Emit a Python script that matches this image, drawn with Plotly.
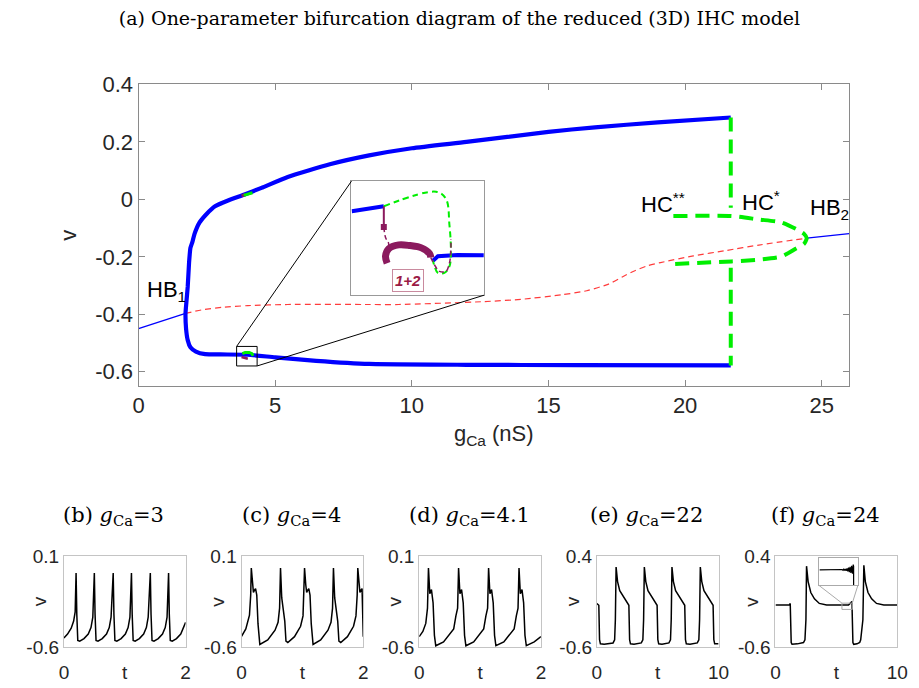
import plotly.graph_objects as go

W, H = 919, 688

# ---------------- main bifurcation diagram data ----------------
# stable periodic orbit (max / min of v), thick blue
po_g = [21.67, 19.0, 16.7, 15.0, 12.0, 10.0, 8.44, 7.0, 5.46, 4.5, 3.88, 3.3, 2.8, 2.5, 2.23, 2.05,
        1.97, 1.90, 1.85, 1.80, 1.75, 1.72, 1.74, 1.80, 1.90, 2.10, 2.44, 3.0, 3.99, 5.0, 6.5, 8.44,
        12.0, 16.0, 21.67]
po_v = [0.285, 0.268, 0.251, 0.235, 0.200, 0.178, 0.153, 0.122, 0.078, 0.040, 0.017, -0.003, -0.024,
        -0.050, -0.081, -0.120, -0.149, -0.169, -0.220, -0.305, -0.360, -0.397, -0.450, -0.490,
        -0.515, -0.530, -0.539, -0.540, -0.541, -0.550, -0.562, -0.573, -0.576, -0.577, -0.578]

# equilibrium branch: stable (thin blue) and unstable (red dashed)
eq_stable_left_g = [0.0, 1.72]
eq_stable_left_v = [-0.450, -0.397]
eq_unstable_g = [1.72, 2.3, 3.05, 4.0, 5.46, 8.44, 9.52, 12.64, 14.0, 15.5, 16.4, 17.2, 17.7, 18.1,
                 18.6, 19.1, 20.3, 21.5, 22.7, 24.45]
eq_unstable_v = [-0.397, -0.385, -0.376, -0.370, -0.366, -0.366, -0.366, -0.356, -0.348, -0.332,
                 -0.318, -0.295, -0.270, -0.251, -0.232, -0.220, -0.197, -0.178, -0.159, -0.135]
eq_stable_right_g = [24.45, 26.0]
eq_stable_right_v = [-0.135, -0.119]

# unstable periodic orbit born at HB2 (green dashed)
upo_g = [19.57, 21.70, 22.69, 23.52, 24.06, 24.35, 24.45, 24.35, 24.06, 23.52, 22.69, 21.70, 19.57]
upo_v = [-0.058, -0.058, -0.070, -0.080, -0.103, -0.120, -0.135, -0.155, -0.171, -0.199, -0.210,
         -0.216, -0.225]

# homoclinic (HC*) vertical, green dashed
hc_g = [21.67, 21.67, None, 21.67, 21.67]
hc_v = [0.285, -0.029, None, -0.238, -0.578]

# small features near g = 4
mark_up_green_g = [3.85, 4.0, 4.17]
mark_up_green_v = [0.014, 0.019, 0.023]
mark_up_purple_g = [3.77, 3.84, 3.92]
mark_up_purple_v = [0.012, 0.015, 0.017]
mark_lo_green_g = [3.80, 3.90, 4.05, 4.15, 4.19]
mark_lo_green_v = [-0.537, -0.533, -0.533, -0.537, -0.545]
mark_lo_purple_g = [3.77, 3.88, 4.0]
mark_lo_purple_v = [-0.549, -0.553, -0.555]

zoom_g = [3.59, 4.34]
zoom_v = [-0.580, -0.512]

x_ticks = [0, 5, 10, 15, 20, 25]
y_ticks = [-0.6, -0.4, -0.2, 0, 0.2, 0.4]
y_ticktext = ["-0.6", "-0.4", "-0.2", "0", "0.2", "0.4"]

# ---------------- inset (normalised coordinates) ----------------
in_blue_l_x = [0.002, 0.119, 0.244]
in_blue_l_y = [0.737, 0.758, 0.780]
in_green_x = [0.244, 0.639, 0.713, 0.739, 0.750, 0.739, 0.701, 0.652, 0.627, 0.615]
in_green_y = [0.780, 0.907, 0.845, 0.619, 0.392, 0.252, 0.195, 0.195, 0.252, 0.303]
in_blue_r_x = [0.615, 0.652, 0.800, 0.998]
in_blue_r_y = [0.303, 0.342, 0.352, 0.350]
in_pur_v_x = [0.244, 0.244]
in_pur_v_y = [0.780, 0.599]
in_pur_d1_x = [0.244, 0.257, 0.281, 0.267]
in_pur_d1_y = [0.599, 0.506, 0.449, 0.390]
in_arc_x = [0.269, 0.257, 0.281, 0.356, 0.442, 0.528, 0.590, 0.598]
in_arc_y = [0.280, 0.342, 0.407, 0.441, 0.435, 0.415, 0.364, 0.331]
in_pur_d2_x = [0.598, 0.627, 0.664, 0.713, 0.739, 0.750, 0.750]
in_pur_d2_y = [0.331, 0.265, 0.209, 0.209, 0.280, 0.392, 0.492]

# ---------------- time series panels ----------------
b_t = [0.00, 0.06, 0.12, 0.16, 0.185, 0.200, 0.212, 0.228, 0.26, 0.33, 0.40, 0.445, 0.475, 0.500,
       0.512, 0.528, 0.56, 0.63, 0.70, 0.745, 0.775, 0.810, 0.822, 0.838, 0.87, 0.94, 1.01, 1.055,
       1.085, 1.110, 1.122, 1.138, 1.17, 1.24, 1.31, 1.355, 1.385, 1.420, 1.432, 1.448, 1.48, 1.55,
       1.62, 1.665, 1.695, 1.720, 1.732, 1.748, 1.78, 1.85, 1.92, 1.965, 2.00]
b_v = [-0.53, -0.50, -0.455, -0.40, -0.33, -0.03, -0.35, -0.55, -0.555, -0.535, -0.50, -0.45, -0.37,
       -0.03, -0.35, -0.55, -0.555, -0.535, -0.50, -0.45, -0.37, -0.03, -0.35, -0.55, -0.555, -0.535,
       -0.50, -0.45, -0.37, -0.03, -0.35, -0.55, -0.555, -0.535, -0.50, -0.45, -0.37, -0.03, -0.35,
       -0.55, -0.555, -0.535, -0.50, -0.45, -0.37, -0.03, -0.35, -0.55, -0.555, -0.535, -0.50, -0.45,
       -0.41]

c_t = [0.00, 0.07, 0.13, 0.15, 0.16, 0.18, 0.195, 0.215, 0.23, 0.25, 0.27, 0.30, 0.43, 0.55, 0.60,
       0.625, 0.64, 0.66, 0.69, 0.71, 0.73, 0.76, 0.87, 0.97, 1.01, 1.025, 1.035, 1.055, 1.07, 1.09,
       1.105, 1.125, 1.145, 1.175, 1.30, 1.42, 1.47, 1.495, 1.51, 1.53, 1.56, 1.58, 1.60, 1.63, 1.74,
       1.84, 1.88, 1.90, 1.91, 1.93, 1.945, 1.965, 1.98, 2.00]
c_v = [-0.517, -0.46, -0.355, -0.20, 0.008, -0.12, -0.18, -0.16, -0.15, -0.20, -0.42, -0.58, -0.545,
       -0.47, -0.41, -0.30, 0.008, -0.22, -0.32, -0.40, -0.555, -0.565, -0.52, -0.44, -0.36, -0.20,
       0.008, -0.12, -0.18, -0.16, -0.15, -0.20, -0.42, -0.58, -0.545, -0.47, -0.41, -0.30, 0.008,
       -0.22, -0.32, -0.40, -0.555, -0.565, -0.52, -0.44, -0.36, -0.20, 0.008, -0.12, -0.18, -0.16,
       -0.15, -0.52]

d_t = [0.00, 0.06, 0.108, 0.136, 0.152, 0.174, 0.201, 0.228, 0.25, 0.272, 0.40, 0.567, 0.603, 0.631,
       0.647, 0.669, 0.696, 0.723, 0.745, 0.767, 0.895, 1.06, 1.096, 1.124, 1.14, 1.162, 1.189, 1.216,
       1.238, 1.26, 1.39, 1.56, 1.596, 1.624, 1.64, 1.662, 1.689, 1.716, 1.738, 1.76, 1.89, 2.00]
d_v = [-0.52, -0.48, -0.418, -0.30, 0.008, -0.19, -0.157, -0.26, -0.51, -0.59, -0.56, -0.46, -0.36,
       -0.30, 0.008, -0.19, -0.157, -0.26, -0.51, -0.59, -0.56, -0.46, -0.36, -0.30, 0.008, -0.19,
       -0.157, -0.26, -0.51, -0.59, -0.56, -0.46, -0.36, -0.30, 0.008, -0.19, -0.157, -0.26, -0.51,
       -0.59, -0.56, -0.52]

e_t = [0.00, 0.16, 0.22, 0.29, 0.60, 1.33, 1.46, 1.52, 1.58, 1.70, 1.88, 2.18, 2.48, 2.63, 2.69,
       2.76, 3.05, 3.65, 3.78, 3.84, 3.90, 4.02, 4.20, 4.50, 4.80, 4.95, 5.01, 5.08, 5.35, 5.92, 6.05,
       6.11, 6.17, 6.29, 6.47, 6.77, 7.07, 7.22, 7.28, 7.35, 7.65, 8.25, 8.38, 8.44, 8.50, 8.62, 8.80,
       9.10, 9.40, 9.55, 9.61, 9.68, 10.0]
e_v = [-0.12, -0.14, -0.52, -0.565, -0.57, -0.555, -0.52, -0.30, 0.28, 0.12, 0.02, -0.05, -0.11,
       -0.14, -0.52, -0.565, -0.57, -0.555, -0.52, -0.30, 0.28, 0.12, 0.02, -0.05, -0.11, -0.14,
       -0.52, -0.565, -0.57, -0.555, -0.52, -0.30, 0.28, 0.12, 0.02, -0.05, -0.11, -0.14, -0.52,
       -0.565, -0.57, -0.555, -0.52, -0.30, 0.28, 0.12, 0.02, -0.05, -0.11, -0.14, -0.52, -0.565,
       -0.565]

f_t = [0.00, 1.15, 1.21, 1.25, 1.29, 1.36, 1.80, 2.30, 2.42, 2.50, 2.55, 2.68, 2.90, 3.20, 3.60,
       4.20, 6.00, 6.28, 6.32, 6.36, 6.43, 6.70, 6.92, 7.00, 7.18, 7.26, 7.38, 7.60, 7.90, 8.30, 8.90,
       10.0]
f_v = [-0.138, -0.138, -0.12, -0.30, -0.55, -0.57, -0.565, -0.55, -0.52, -0.30, 0.29, 0.12, 0.00,
       -0.07, -0.12, -0.138, -0.138, -0.10, -0.30, -0.55, -0.57, -0.565, -0.55, -0.52, -0.30, 0.30,
       0.12, 0.00, -0.07, -0.12, -0.138, -0.138]

# inset of panel (f) (normalised coordinates)
fin_x = [0.025, 0.58, 0.60, 0.62, 0.64, 0.66, 0.68, 0.70, 0.72, 0.74, 0.76, 0.78, 0.80, 0.82, 0.84,
         0.86, 0.88, 0.89, 0.89]
fin_y = [0.565, 0.565, 0.58, 0.55, 0.59, 0.54, 0.60, 0.53, 0.62, 0.51, 0.65, 0.48, 0.68, 0.45,
         0.72, 0.42, 0.76, 0.70, 0.0]
fzoom_t = [5.46, 6.31]
fzoom_v = [-0.186, -0.117]

panels = [
    dict(label="(b)", g="3", t=b_t, v=b_v, tmax=2, vlim=[-0.6, 0.1]),
    dict(label="(c)", g="4", t=c_t, v=c_v, tmax=2, vlim=[-0.6, 0.1]),
    dict(label="(d)", g="4.1", t=d_t, v=d_v, tmax=2, vlim=[-0.6, 0.1]),
    dict(label="(e)", g="22", t=e_t, v=e_v, tmax=10, vlim=[-0.6, 0.4]),
    dict(label="(f)", g="24", t=f_t, v=f_v, tmax=10, vlim=[-0.6, 0.4]),
]

# ---------------- layout geometry (pixels) ----------------
MAIN = (135, 859, 75, 387)        # left, right, top, bottom
INSET = (352, 487, 175, 293)
PANEL_LEFT = [59, 240, 421, 602, 784]
PANEL_W = 124
PANEL_TOP, PANEL_BOT = 563, 657
FINSET = (828, 868, 565, 593)

def xd(l, r):
    return [l / W, r / W]

def yd(t, b):
    return [1 - b / H, 1 - t / H]

SANS = "Liberation Sans, Arial, Helvetica, sans-serif"
SERIF = "DejaVu Serif, Liberation Serif, serif"
TXT = "#262626"
BLUE = "#0000ff"
GREEN = "#00ee00"
RED = "#ff3b3b"
PURPLE = "#8b1a5e"

fig = go.Figure()

def add(x, y, ax="", **kw):
    fig.add_trace(go.Scatter(x=x, y=y, mode="lines", xaxis="x" + ax, yaxis="y" + ax,
                             hoverinfo="skip", showlegend=False, **kw))

# main
add(eq_unstable_g, eq_unstable_v, line=dict(color=RED, width=1.2, dash="6px,4px", shape="spline", smoothing=0.6))
add(eq_stable_left_g, eq_stable_left_v, line=dict(color=BLUE, width=1.3))
add(eq_stable_right_g, eq_stable_right_v, line=dict(color=BLUE, width=1.3))
add(po_g, po_v, line=dict(color=BLUE, width=4.2, shape="spline", smoothing=0.5))
add(hc_g, hc_v, line=dict(color=GREEN, width=4, dash="14px,8px"))
add(upo_g, upo_v, line=dict(color=GREEN, width=4, dash="14px,8px", shape="spline", smoothing=0.6))
add(mark_up_purple_g, mark_up_purple_v, line=dict(color=PURPLE, width=3))
add(mark_up_green_g, mark_up_green_v, line=dict(color=GREEN, width=3))
add(mark_lo_purple_g, mark_lo_purple_v, line=dict(color=PURPLE, width=2.5))
add(mark_lo_green_g, mark_lo_green_v, line=dict(color=GREEN, width=3))

# inset
add(in_blue_l_x, in_blue_l_y, "2", line=dict(color=BLUE, width=4))
add(in_blue_r_x, in_blue_r_y, "2", line=dict(color=BLUE, width=4))
add(in_green_x, in_green_y, "2", line=dict(color=GREEN, width=2, dash="6px,4px", shape="spline"))
add(in_pur_v_x, in_pur_v_y, "2", line=dict(color=PURPLE, width=2))
fig.add_trace(go.Scatter(x=[in_pur_v_x[1]], y=[in_pur_v_y[1]], mode="markers", xaxis="x2",
                         yaxis="y2", marker=dict(symbol="square", size=6, color=PURPLE),
                         hoverinfo="skip", showlegend=False))
add(in_pur_d1_x, in_pur_d1_y, "2", line=dict(color=PURPLE, width=1.5, dash="5px,3px", shape="spline"))
add(in_arc_x, in_arc_y, "2", line=dict(color=PURPLE, width=7, shape="spline"))
add(in_pur_d2_x, in_pur_d2_y, "2", line=dict(color=PURPLE, width=1.5, dash="5px,3px", shape="spline"))

# panels
for i, p in enumerate(panels):
    add(p["t"], p["v"], str(i + 3), line=dict(color="black", width=1.5))
add(fin_x, fin_y, "8", line=dict(color="black", width=1.2))

layout = dict(
    width=W, height=H, margin=dict(l=0, r=0, t=0, b=0),
    paper_bgcolor="white", plot_bgcolor="white", showlegend=False,
    font=dict(family=SANS, color=TXT, size=22),
    title=dict(text="(a) One-parameter bifurcation diagram of the reduced (3D) IHC model",
               x=0.5, xanchor="center", y=1 - 18 / H, yanchor="middle",
               font=dict(family=SERIF, size=19, color="black")),
)
axcommon = dict(showgrid=False, zeroline=False, showline=True, linecolor="#8a8a8a", linewidth=1)
layout["xaxis"] = dict(axcommon, domain=xd(MAIN[0], MAIN[1]), range=[0, 26], anchor="y",
                       tickvals=x_ticks, ticks="inside", ticklen=6, tickcolor="#8a8a8a",
                       mirror="ticks", tickfont=dict(size=22, color=TXT),
                       title=dict(text="g<sub>Ca</sub> (nS)", font=dict(size=22, color=TXT), standoff=8))
layout["yaxis"] = dict(axcommon, domain=yd(MAIN[2], MAIN[3]), range=[-0.65, 0.4], anchor="x",
                       tickvals=y_ticks, ticktext=y_ticktext, ticks="inside", ticklen=6,
                       tickcolor="#8a8a8a", mirror="ticks", tickfont=dict(size=22, color=TXT),
                       title=dict(text="v", font=dict(size=22, color=TXT), standoff=12))
layout["xaxis2"] = dict(axcommon, domain=xd(INSET[0], INSET[1]), range=[0, 1], anchor="y2",
                        mirror=True, showticklabels=False, ticks="", linecolor="#999999")
layout["yaxis2"] = dict(axcommon, domain=yd(INSET[2], INSET[3]), range=[0, 1], anchor="x2",
                        mirror=True, showticklabels=False, ticks="", linecolor="#999999")

annotations = []
shapes = []
for i, p in enumerate(panels):
    n = str(i + 3)
    l = PANEL_LEFT[i]
    r = l + PANEL_W
    vlo, vhi = p["vlim"]
    layout["xaxis" + n] = dict(axcommon, domain=xd(l, r), range=[0, p["tmax"]], anchor="y" + n,
                               mirror=True, linecolor="#c4c4c4", ticks="",
                               tickvals=[0, p["tmax"] / 2, p["tmax"]],
                               ticktext=["0", "t", str(p["tmax"])],
                               tickfont=dict(size=19, color=TXT), ticklabelstandoff=8)
    layout["yaxis" + n] = dict(axcommon, domain=yd(PANEL_TOP, PANEL_BOT), range=[vlo, vhi],
                               anchor="x" + n, mirror=True, linecolor="#c4c4c4", ticks="",
                               tickvals=[vlo, vhi], ticktext=[f"{vlo:g}", f"{vhi:g}"],
                               tickfont=dict(size=19, color=TXT))
    annotations.append(dict(text="v", xref="x" + n + " domain", yref="y" + n + " domain",
                            x=-0.2, y=0.5, xanchor="center", yanchor="middle", showarrow=False,
                            textangle=-90, font=dict(size=19, color=TXT)))
    cx = (l + r) / 2 - 11
    annotations.append(dict(text=f"{p['label']} <i>g</i><sub>Ca</sub>={p['g']}",
                            xref="paper", yref="paper", x=cx / W, y=1 - 521 / H,
                            xanchor="center", yanchor="middle",
                            showarrow=False, font=dict(family=SERIF, size=21, color="black")))

layout["xaxis8"] = dict(axcommon, domain=xd(FINSET[0], FINSET[1]), range=[0, 1], anchor="y8",
                        mirror=True, linecolor="#aaaaaa", showticklabels=False, ticks="")
layout["yaxis8"] = dict(axcommon, domain=yd(FINSET[2], FINSET[3]), range=[0, 1], anchor="x8",
                        mirror=True, linecolor="#aaaaaa", showticklabels=False, ticks="")

# labels on main plot
for txt, gx, vy in [("HB<sub>1</sub>", 0.25, -0.318), ("HC<sup>**</sup>", 18.3, -0.012),
                    ("HC<sup>*</sup>", 22.0, -0.005), ("HB<sub>2</sub>", 24.5, -0.035)]:
    annotations.append(dict(text=txt, x=gx, y=vy, xref="x", yref="y", xanchor="left",
                            yanchor="middle", showarrow=False, font=dict(size=22, color="black")))

annotations.append(dict(text="<b><i>1+2</i></b>", x=0.43, y=0.127, xref="x2", yref="y2",
                        showarrow=False, font=dict(size=15, color="#9b1b45"),
                        bordercolor="#c98a9e", borderwidth=1, borderpad=2, bgcolor="white"))

# zoom box on main plot and connector lines to the inset
def data_to_paper(xv, yv, xr, yr, xdom, ydom):
    px = xdom[0] + (xv - xr[0]) / (xr[1] - xr[0]) * (xdom[1] - xdom[0])
    py = ydom[0] + (yv - yr[0]) / (yr[1] - yr[0]) * (ydom[1] - ydom[0])
    return px, py

shapes.append(dict(type="rect", xref="x", yref="y", x0=zoom_g[0], x1=zoom_g[1], y0=zoom_v[0],
                   y1=zoom_v[1], line=dict(color="black", width=1)))
mx, my = layout["xaxis"]["domain"], layout["yaxis"]["domain"]
ix, iy = layout["xaxis2"]["domain"], layout["yaxis2"]["domain"]
a = data_to_paper(zoom_g[0], zoom_v[1], [0, 26], [-0.65, 0.4], mx, my)
b = data_to_paper(zoom_g[1], zoom_v[0], [0, 26], [-0.65, 0.4], mx, my)
shapes.append(dict(type="line", xref="paper", yref="paper", x0=a[0], y0=a[1], x1=ix[0], y1=iy[1],
                   line=dict(color="black", width=1)))
shapes.append(dict(type="line", xref="paper", yref="paper", x0=b[0], y0=b[1], x1=ix[1], y1=iy[0],
                   line=dict(color="black", width=1)))

# zoom box on panel (f) and connectors
shapes.append(dict(type="rect", xref="x7", yref="y7", x0=fzoom_t[0], x1=fzoom_t[1], y0=fzoom_v[0],
                   y1=fzoom_v[1], line=dict(color="#aaaaaa", width=1)))
fx, fy = layout["xaxis7"]["domain"], layout["yaxis7"]["domain"]
f8x, f8y = layout["xaxis8"]["domain"], layout["yaxis8"]["domain"]
c1 = data_to_paper(fzoom_t[0], fzoom_v[1], [0, 10], [-0.6, 0.4], fx, fy)
c2 = data_to_paper(fzoom_t[1], fzoom_v[1], [0, 10], [-0.6, 0.4], fx, fy)
shapes.append(dict(type="line", xref="paper", yref="paper", x0=f8x[0], y0=f8y[0], x1=c1[0], y1=c1[1],
                   line=dict(color="#aaaaaa", width=1)))
shapes.append(dict(type="line", xref="paper", yref="paper", x0=f8x[1], y0=f8y[0], x1=c2[0], y1=c2[1],
                   line=dict(color="#aaaaaa", width=1)))

layout["annotations"] = annotations
layout["shapes"] = shapes
fig.update_layout(**layout)
fig.write_html("out.html")
